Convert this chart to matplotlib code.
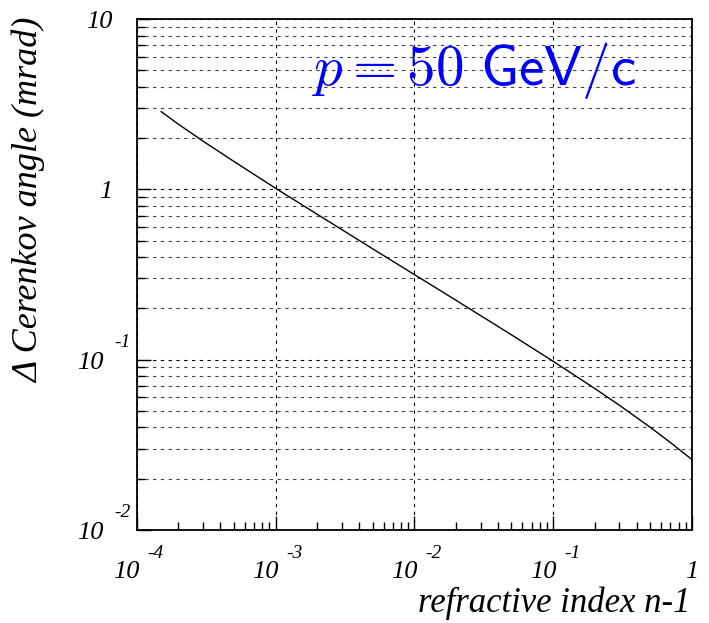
import matplotlib
matplotlib.use("Agg")
import matplotlib.pyplot as plt
from matplotlib.ticker import LogLocator, NullFormatter

# data
n_minus_1 = [1.5e-4, 2e-4, 3e-4, 5e-4, 1e-3, 2e-3, 5e-3, 1e-2, 2e-2, 5e-2, 0.1, 0.2, 0.3, 0.5, 0.7, 1.0]
delta_theta = [2.86, 2.41, 1.92, 1.46, 1.015, 0.713, 0.448, 0.316, 0.223, 0.140, 0.0978, 0.0676, 0.0540, 0.0401, 0.0326, 0.0259]

x_ticks = [1e-4, 1e-3, 1e-2, 1e-1, 1.0]
x_exps = ["-4", "-3", "-2", "-1", None]
y_ticks = [1e-2, 1e-1, 1.0, 10.0]
y_exps = ["-2", "-1", None, None]
y_plain = [None, None, "1", "10"]

plt.rcParams['mathtext.fontset'] = 'cm'
serif_it = dict(family='Liberation Serif', style='italic')

fig = plt.figure(figsize=(7.09, 6.23), dpi=100)
ax = fig.add_axes([136.7/709, 1-530/623, (692-136.7)/709, (530-19)/623])
ax.set_xscale('log')
ax.set_yscale('log')
ax.set_xlim(1e-4, 1)
ax.set_ylim(1e-2, 10)

# grid: horizontal at all y ticks, vertical at decades
ax.yaxis.set_major_locator(LogLocator(base=10, numticks=10))
ax.yaxis.set_minor_locator(LogLocator(base=10, subs=range(2, 10), numticks=20))
ax.xaxis.set_major_locator(LogLocator(base=10, numticks=10))
ax.xaxis.set_minor_locator(LogLocator(base=10, subs=range(2, 10), numticks=20))
ax.grid(True, which='major', axis='both', color='black', linestyle=(0, (3, 4)), linewidth=0.8)
ax.grid(True, which='minor', axis='y', color='#444444', linestyle=(0, (3, 4)), linewidth=0.8)

ax.plot(n_minus_1, delta_theta, color='black', linewidth=1.0)

ax.tick_params(which='both', direction='in', top=False, right=False,
               labelbottom=False, labelleft=False)
ax.tick_params(which='major', length=10, width=1.0)
ax.tick_params(which='minor', length=6, width=1.0)
ax.xaxis.set_major_formatter(NullFormatter())
ax.xaxis.set_minor_formatter(NullFormatter())
ax.yaxis.set_major_formatter(NullFormatter())
ax.yaxis.set_minor_formatter(NullFormatter())
for s in ax.spines.values():
    s.set_linewidth(1.3)

base_fs = 19
exp_fs = 14
# x tick labels
for v, e in zip(x_ticks, x_exps):
    if e is None:
        ax.annotate("1", xy=(v, 0), xycoords=('data', 'axes fraction'),
                    xytext=(0, -48), textcoords='offset pixels',
                    ha='center', va='baseline', fontsize=base_fs, **serif_it)
    else:
        ax.annotate("10", xy=(v, 0), xycoords=('data', 'axes fraction'),
                    xytext=(3, -48), textcoords='offset pixels',
                    ha='right', va='baseline', fontsize=base_fs, **serif_it)
        ax.annotate(e, xy=(v, 0), xycoords=('data', 'axes fraction'),
                    xytext=(11, -28), textcoords='offset pixels',
                    ha='left', va='baseline', fontsize=exp_fs, **serif_it)
# y tick labels
for v, e, p in zip(y_ticks, y_exps, y_plain):
    if e is None:
        ax.annotate(p, xy=(0, v), xycoords=('axes fraction', 'data'),
                    xytext=(-24, -9), textcoords='offset pixels',
                    ha='right', va='baseline', fontsize=base_fs, **serif_it)
    else:
        ax.annotate("10", xy=(0, v), xycoords=('axes fraction', 'data'),
                    xytext=(-33, -9), textcoords='offset pixels',
                    ha='right', va='baseline', fontsize=base_fs, **serif_it)
        ax.annotate(e, xy=(0, v), xycoords=('axes fraction', 'data'),
                    xytext=(-22, 13), textcoords='offset pixels',
                    ha='left', va='baseline', fontsize=exp_fs, **serif_it)

# axis titles
fig.text(690/709, 1-612/623, "refractive index n-1", ha='right', va='baseline',
         fontsize=25, **serif_it)
fig.text(29/709, 1-200/623, "Δ Cerenkov angle (mrad)", ha='center', va='center',
         rotation=90, fontsize=26, **serif_it)

# annotation
ax.text((312-136.7)/555.3, (530-85)/511, r"$p = 50\ \mathsf{GeV/c}$", transform=ax.transAxes,
        ha='left', va='baseline', fontsize=41, color='blue')

fig.savefig("out.png", dpi=100)
